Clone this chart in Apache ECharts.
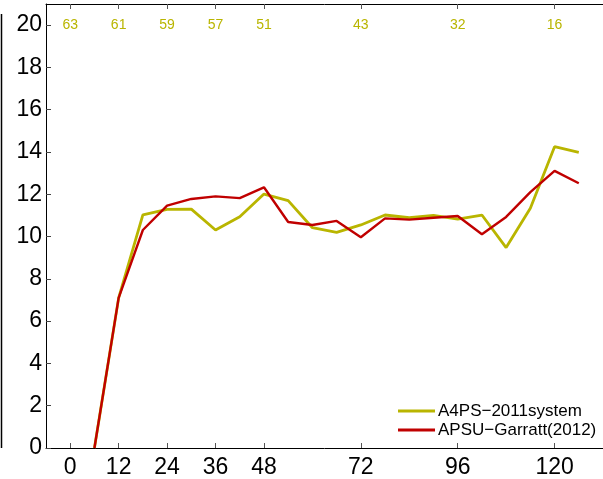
<!DOCTYPE html>
<html>
<head>
<meta charset="utf-8">
<script src="https://cdn.jsdelivr.net/npm/echarts@6/dist/echarts.min.js"></script>
<style>
html,body{margin:0;padding:0;background:#fff;}
#chart{width:603px;height:479px;}
</style>
</head>
<body>
<div id="chart"></div>
<script>
// Data
var hours = [6, 12, 18, 24, 30, 36, 42, 48, 54, 60, 66, 72, 78, 84, 90, 96, 102, 108, 114, 120, 126];
var a4ps = [0, 7.1, 11.03, 11.29, 11.3, 10.31, 10.94, 12.01, 11.7, 10.42, 10.2, 10.55, 11.02, 10.89, 11.0, 10.82, 11.02, 9.48, 11.34, 14.25, 13.98];
var apsu = [0, 7.1, 10.31, 11.46, 11.78, 11.9, 11.82, 12.33, 10.69, 10.55, 10.74, 9.97, 10.86, 10.8, 10.89, 10.97, 10.11, 10.93, 12.1, 13.11, 12.52];
var xTicks = [0, 12, 24, 36, 48, 72, 96, 120];
var topCounts = ['63', '61', '59', '57', '51', '43', '32', '16'];
var yTicks = [0, 2, 4, 6, 8, 10, 12, 14, 16, 18, 20];
var seriesNames = ['A4PS\u22122011system', 'APSU\u2212Garratt(2012)'];

var OLIVE = '#b9b500';
var RED = '#c00000';
var FONT = 'Liberation Sans, Arial, sans-serif';

function pairs(xs, ys) {
  return xs.map(function (x, i) { return [x, ys[i]]; });
}

var chart = echarts.init(document.getElementById('chart'), null, {renderer: 'canvas'});
chart.setOption({
  animation: false,
  backgroundColor: '#fff',
  grid: {left: 46, top: 4, width: 563, height: 444.3, containLabel: false},
  xAxis: [{
    type: 'value', position: 'bottom', min: -6, max: 132,
    axisLine: {show: true, onZero: false, lineStyle: {color: '#000', width: 1}},
    axisTick: {show: true, inside: true, length: 5, customValues: xTicks, lineStyle: {color: '#555'}},
    axisLabel: {show: true, customValues: xTicks, margin: 8, color: '#000', fontSize: 23, fontFamily: FONT},
    splitLine: {show: false}
  }, {
    type: 'value', position: 'top', min: -6, max: 132,
    axisLine: {show: true, onZero: false, lineStyle: {color: '#000', width: 1}},
    axisTick: {show: true, inside: true, length: 5, customValues: xTicks, lineStyle: {color: '#555'}},
    axisLabel: {
      show: true, inside: true, customValues: xTicks, margin: 14.5, color: OLIVE, fontSize: 14, fontFamily: FONT,
      formatter: function (v) { var i = xTicks.indexOf(v); return i >= 0 ? topCounts[i] : ''; }
    },
    splitLine: {show: false}
  }],
  yAxis: [{
    type: 'value', min: 0, max: 21,
    axisLine: {show: true, onZero: false, lineStyle: {color: '#000', width: 1}},
    axisTick: {show: true, inside: true, length: 5, customValues: yTicks, lineStyle: {color: '#444'}},
    axisLabel: {show: true, customValues: yTicks, margin: 4, color: '#000', fontSize: 23, fontFamily: FONT},
    splitLine: {show: false}
  }],
  legend: {
    show: true, orient: 'vertical', left: 393, top: 397,
    icon: 'rect', itemWidth: 37, itemHeight: 3, itemGap: 1,
    textStyle: {fontSize: 17, lineHeight: 18, color: '#000', fontFamily: FONT, padding: [0, 0, 0, -2]},
    data: seriesNames
  },
  series: [{
    name: seriesNames[0], type: 'line', data: pairs(hours, a4ps),
    symbol: 'none', color: OLIVE, lineStyle: {color: OLIVE, width: 2.8}, z: 2
  }, {
    name: seriesNames[1], type: 'line', data: pairs(hours, apsu),
    symbol: 'none', color: RED, lineStyle: {color: RED, width: 2.4}, z: 3
  }],
  graphic: [{
    type: 'line', shape: {x1: 1.5, y1: 14, x2: 1.5, y2: 448}, style: {stroke: '#000', lineWidth: 1.5}
  }]
});
</script>
</body>
</html>
